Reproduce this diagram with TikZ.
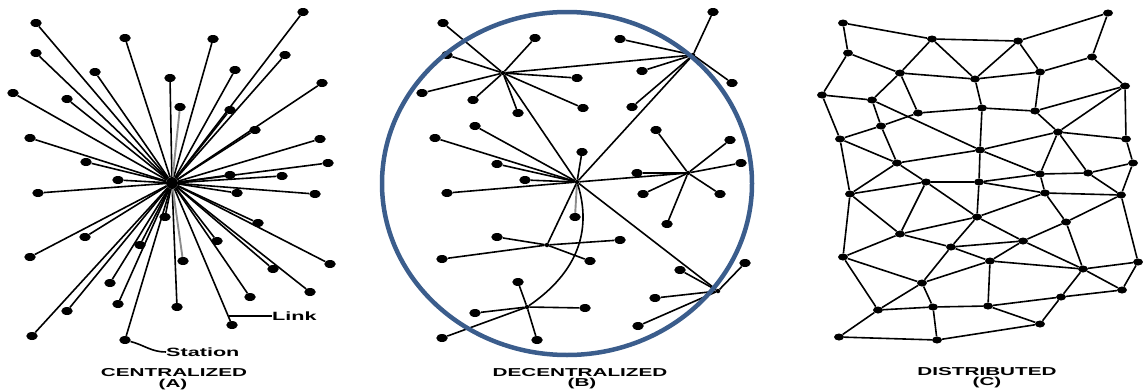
\documentclass[tikz,border=0pt]{standalone}
\usepackage{fontspec}
\setmainfont{Liberation Sans}
\usetikzlibrary{shapes.geometric}
\definecolor{ring}{RGB}{59,93,140}
\definecolor{greyline}{RGB}{140,140,140}
\tikzset{
 dot/.style={ellipse, fill=black, inner sep=0pt, minimum width=11.5pt, minimum height=8pt},
 sdot/.style={ellipse, fill=black, inner sep=0pt, minimum width=10pt, minimum height=7pt},
 hub/.style={circle, fill=black, inner sep=0pt, minimum size=4.5pt},
 link/.style={draw=black, line width=1.6pt},
 glink/.style={draw=greyline, line width=1.9pt},
 title/.style={font=\fontsize{11.5}{12}\selectfont\bfseries, inner sep=0pt},
 note/.style={font=\fontsize{12}{12}\selectfont\bfseries, inner sep=0pt, anchor=west},
 ringline/.style={draw=ring, line width=4.5pt},
}
\begin{document}
\begin{tikzpicture}[x=1pt,y=-1pt]
\useasboundingbox (0,0) rectangle (1143,391);
% ---------- (A) centralized ----------
\node[hub, minimum size=12pt] (ha) at (172,183) {};
\foreach \i/\x/\y in {1/36/23, 2/303/12, 3/125/38, 4/213/39, 5/36/53, 6/285/55, 7/95/72, 8/235/70, 9/170/78, 10/322/83, 11/13/93, 12/67/99, 14/230/110, 15/255/130, 16/30/138, 17/320/139, 18/86/162, 19/328/163, 20/118/180, 21/230/175, 22/282/176, 23/38/193, 24/237/193, 25/315/194, 26/165/217, 27/258/223, 28/85/237, 29/217/241, 30/30/257, 31/140/245, 33/330/264, 34/273/269, 35/110/283, 36/250/297, 37/310/292, 38/118/304, 39/177/307, 40/67/311, 41/232/325, 42/32/336, 43/125/340}
 {\node[dot] (a\i) at (\x,\y) {}; \draw[link] (ha) -- (a\i);}
\node[dot] (a13) at (180,107) {};
\node[dot] (a32) at (183,261) {};
\draw[glink] (ha) -- (a13);
\draw[glink] (ha) -- (a32);
\node[title] (ta) at (174,373) {\scalebox{1.8}[1]{CENTRALIZED}};
\node[title] (tab) at (173,385) {\scalebox{1.8}[1]{(A)}};
\node[note] (link) at (272,316) {\scalebox{1.8}[1]{Link}};
\coordinate (linkend) at (229,316);
\draw[link] (linkend) -- (link.west);
\node[note] (station) at (166,352) {\scalebox{1.8}[1]{Station}};
\draw[link] (a43) to[out=-15,in=180] (station.west);
% ---------- (B) decentralized ----------
\node[hub] (b1) at (503,73) {};
\node[hub] (b2) at (693,55) {};
\node[hub] (b3) at (577,182) {};
\node[hub] (b4) at (688,173) {};
\node[hub] (b5) at (547,245) {};
\node[hub] (b6) at (527,307) {};
\node[hub] (b7) at (718,291) {};
\foreach \i/\x/\y in {1/443/23, 2/535/38, 3/447/55, 4/422/93, 5/473/100, 6/518/113, 7/577/78, 8/583/108}
 {\node[dot] (bA\i) at (\x,\y) {}; \draw[link] (b1) -- (bA\i);}
\foreach \i/\x/\y in {1/713/12, 2/620/39, 3/642/71, 4/732/83, 5/632/107}
 {\node[dot] (bB\i) at (\x,\y) {}; \draw[link] (b2) -- (bB\i);}
\foreach \i/\x/\y in {1/475/126, 2/435/138, 3/497/164, 4/525/180, 5/447/193, 6/582/152}
 {\node[dot] (bC\i) at (\x,\y) {}; \draw[link] (b3) -- (bC\i);}
\node[dot] (bC7) at (575,217) {};
\draw[glink] (b3) -- (bC7);
\foreach \i/\x/\y in {1/656/130, 2/730/140, 3/741/163, 4/637/173, 5/643/194, 6/720/194, 7/667/224}
 {\node[dot] (bD\i) at (\x,\y) {}; \draw[link] (b4) -- (bD\i);}
\foreach \i/\x/\y in {1/497/237, 2/620/240, 3/442/259, 4/590/261}
 {\node[dot] (bE\i) at (\x,\y) {}; \draw[link] (b5) -- (bE\i);}
\foreach \i/\x/\y in {1/518/282, 2/475/313, 3/585/308, 4/442/338, 5/537/340}
 {\node[dot] (bF\i) at (\x,\y) {}; \draw[link] (b6) -- (bF\i);}
\foreach \i/\x/\y in {1/745/263, 2/680/270, 3/655/298, 4/638/326}
 {\node[dot] (bG\i) at (\x,\y) {}; \draw[link] (b7) -- (bG\i);}
\draw[link] (b1) -- (b2);
\draw[link] (b1) -- (b3);
\draw[link] (b2) -- (b3);
\draw[link] (b3) -- (b4);
\draw[link] (b3) -- (b5);
\draw[link] (b3) -- (b7);
\draw[link] (b3) .. controls (592,230) and (578,272) .. (b6);
\draw[ringline] (567,183.5) ellipse [x radius=185, y radius=171.5];
\node[title] (tb) at (580,373) {\scalebox{1.8}[1]{DECENTRALIZED}};
\node[title] (tbb) at (582,384) {\scalebox{1.8}[1]{(B)}};
% ---------- (C) distributed ----------
\foreach \n/\x/\y in {a1/843/23, a2/932/39, a3/1018/41, a4/1108/13,
 b1/848/53, b2/900/73, b3/975/79, b4/1040/72, b5/1092/57,
 c1/822/95, c2/872/100, c3/918/113, c4/982/108, c5/1035/111, c6/1125/86,
 d1/881/126, d2/1058/132, d3/1126/139, e1/840/139, e2/980/150,
 f1/897/163, f2/1133/163, f3/1040/174, f4/1088/173,
 g1/926/182, g2/979/182, h1/850/194, h2/1045/193, h3/1121/195,
 i1/977/217, i2/1066/222, j1/900/234, j2/1023/241,
 k1/951/247, k2/843/257, k3/990/261, k4/1083/269, k5/1138/262,
 l1/922/283, l2/1061/297, l3/1122/290,
 m1/878/310, m2/933/307, m3/988/306, m4/1040/324, n1/839/337, n2/937/340}
 {\node[sdot] (c\n) at (\x,\y) {};}
\foreach \u/\v in {a1/b1, a1/a2, a2/a3, a3/a4, a4/b5, b1/c1, b1/b2, a2/b2, a2/b3, a3/b3, a3/b4,
 b2/b3, b3/b4, b4/b5, b5/c6, b2/c2, b2/c3, b3/c4, b4/c5, c1/c2, c1/e1, c2/d1, c2/e2,
 c3/c4, c4/c5, c5/c6, c5/d2, d2/c6, d2/d3, c6/d3, e2/d2, e2/c4, e2/g2, e1/d1, d1/c3,
 d1/f1, e1/f1, e1/h1, f1/e2, e2/f3, d2/f3, d2/f4, d3/f2, f3/f4, f4/f2, f4/h3, f2/h3,
 h2/h3, f3/h2, g1/g2, g2/f3, g2/h2, h1/g1, f1/h1, f1/g1,
 h1/k2, h1/j1, g1/j1, g2/i1, g1/i1, i1/h2, i1/j1, i1/k1, i1/j2, h2/i2, h3/i2, h3/k5,
 i2/j2, i2/k4, k1/j2, k1/k3, j2/k3, j2/k4, j1/k1, j1/k2, k1/l1, k2/l1, k2/m1, k3/l1, k3/m3,
 k3/k4, k4/k5, k4/l3, k4/l2, k5/l3, l2/l3, l1/m1, l1/m2, m3/l2, l2/m4, m3/m4, m1/m2, m2/m3,
 m1/n1, m2/n2, n1/n2, n2/m4}
 {\draw[link] (c\u) -- (c\v);}
\node[title] (tc) at (987,372) {\scalebox{1.8}[1]{DISTRIBUTED}};
\node[title] (tcb) at (987,383) {\scalebox{1.8}[1]{(C)}};
\end{tikzpicture}
\end{document}
